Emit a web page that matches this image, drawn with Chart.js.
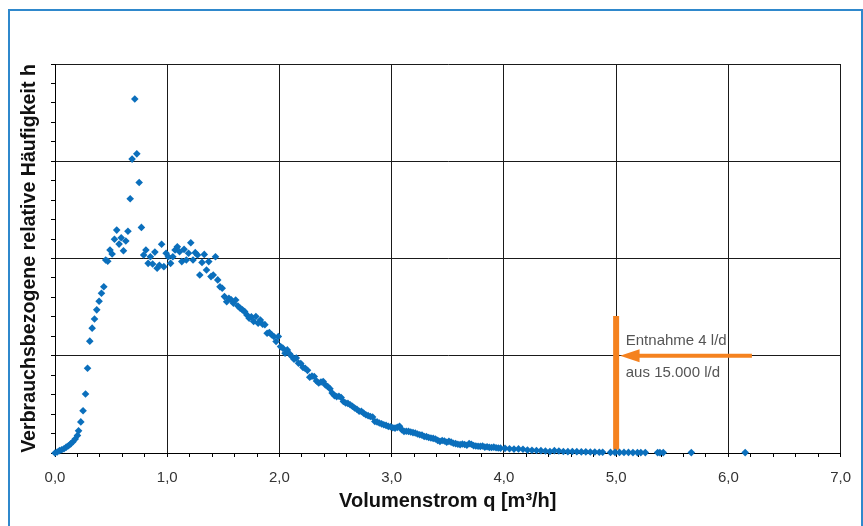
<!DOCTYPE html>
<html>
<head>
<meta charset="utf-8">
<script src="https://cdn.jsdelivr.net/npm/chart.js@4.4.0/dist/chart.umd.min.js"></script>
<style>
  html, body { margin: 0; padding: 0; background: #fff; }
  #wrap { position: relative; width: 863px; height: 526px; overflow: hidden; }
  #frame { position: absolute; left: 8px; top: 9px; width: 851px; height: 560px; border: 2px solid #2f88cc; box-sizing: content-box; }
  canvas { position: absolute; left: 0; top: 0; }
</style>
</head>
<body>
<div id="wrap">
  <div id="frame"></div>
  <canvas id="c" width="863" height="526"></canvas>
</div>
<script>
// ---- data ----
const flowX = [
  0.00,0.02,0.04,0.06,0.08,0.10,0.12,0.14,0.16,0.18,0.20,0.21,0.23,0.25,0.272,0.29,0.31,0.331,0.352,0.372,
  0.393,0.414,0.435,0.452,0.47,0.49,0.509,0.53,0.55,0.571,0.59,0.61,0.631,0.65,0.67,0.687,0.711,0.729,0.75,0.77,
  0.79,0.81,0.83,0.85,0.87,0.89,0.91,0.93,0.95,0.97,0.99,1.01,1.03,1.05,1.07,1.09,1.11,1.13,1.15,1.17,
  1.19,1.21,1.23,1.25,1.27,1.29,1.31,1.33,1.35,1.37,1.39,1.41,1.43,1.45,1.47,1.49,1.51,1.53,1.55,1.57,
  1.59,1.61,1.63,1.65,1.67,1.69,1.71,1.73,1.75,1.77,1.79,1.81,1.83,1.85,1.87,1.89,1.91,1.93,1.95,1.97,
  1.99,2.01,2.03,2.05,2.07,2.09,2.11,2.13,2.15,2.17,2.19,2.21,2.23,2.25,2.27,2.29,2.31,2.33,2.35,2.37,
  2.39,2.41,2.43,2.45,2.47,2.49,2.51,2.53,2.55,2.57,2.59,2.61,2.63,2.65,2.67,2.69,2.71,2.73,2.75,2.77,
  2.79,2.81,2.83,2.85,2.87,2.89,2.91,2.93,2.95,2.97,2.99,3.01,3.03,3.05,3.07,3.09,3.11,3.13,3.15,3.17,
  3.19,3.21,3.23,3.25,3.27,3.29,3.31,3.33,3.35,3.37,3.39,3.41,3.43,3.45,3.47,3.49,3.51,3.53,3.55,3.57,
  3.59,3.61,3.63,3.65,3.67,3.69,3.71,3.73,3.75,3.77,3.79,3.81,3.83,3.85,3.87,3.89,3.91,3.93,3.95,3.97,
  4.01,4.05,4.09,4.13,4.17,4.21,4.25,4.29,4.33,4.37,4.41,4.45,4.49,4.53,4.57,4.61,4.65,4.69,4.73,4.77,
  4.81,4.85,4.88,4.95,4.99,5.03,5.07,5.11,5.15,5.19,5.22,5.26,5.37,5.39,5.42,5.67,6.15
];
const freqY = [
  0.00,0.05,0.12,0.17,0.22,0.30,0.37,0.47,0.58,0.72,0.90,1.14,1.60,2.17,3.03,4.36,5.75,6.42,6.89,7.36,
  7.80,8.21,8.55,9.92,9.86,10.44,10.23,10.99,11.46,10.74,11.07,10.40,10.90,11.40,13.07,15.11,18.20,15.38,13.91,11.60,
  10.18,10.44,9.75,10.09,9.72,10.33,9.50,9.65,10.73,9.58,10.27,10.09,9.75,10.09,10.44,10.60,10.35,9.84,10.47,9.92,
  10.27,10.81,9.92,10.30,10.18,9.15,9.80,10.21,9.41,9.84,9.07,9.15,10.09,8.90,8.55,8.47,8.04,7.78,7.96,7.88,
  7.70,7.87,7.56,7.44,7.36,7.27,7.10,6.93,7.00,6.76,7.02,6.67,6.84,6.62,6.60,6.16,6.19,6.08,5.99,5.73,
  5.99,5.47,5.39,5.13,5.30,5.10,4.96,4.82,4.88,4.62,4.60,4.40,4.35,4.25,3.90,3.95,3.93,3.70,3.60,3.65,
  3.67,3.50,3.42,3.30,3.08,2.95,2.90,2.92,2.85,2.65,2.57,2.55,2.48,2.40,2.31,2.25,2.15,2.14,2.05,1.97,
  1.92,1.88,1.85,1.62,1.60,1.54,1.50,1.45,1.42,1.37,1.35,1.30,1.28,1.32,1.37,1.20,1.11,1.12,1.11,1.08,
  1.05,1.03,0.98,0.94,0.92,0.85,0.84,0.80,0.77,0.75,0.72,0.65,0.60,0.64,0.62,0.55,0.60,0.56,0.50,0.48,
  0.45,0.43,0.46,0.44,0.40,0.48,0.45,0.38,0.36,0.35,0.34,0.36,0.30,0.32,0.29,0.28,0.30,0.27,0.26,0.25,
  0.24,0.22,0.20,0.21,0.19,0.15,0.14,0.13,0.12,0.10,0.08,0.12,0.10,0.08,0.07,0.08,0.07,0.06,0.06,0.05,
  0.05,0.04,0.04,0.03,0.03,0.03,0.03,0.03,0.02,0.02,0.02,0.02,0.02,0.02,0.02,0.02,0.02
];
const xTickLabels = ['0,0','1,0','2,0','3,0','4,0','5,0','6,0','7,0'];
const markerX = [5.0, 5.0];
const markerY = [0.17, 7.05];
const arrowX = [6.21, 5.2];
const arrowY = [5, 5];
const arrowTipX = 5.035;
const annotationLines = ['Entnahme 4 l/d', 'aus 15.000 l/d'];
const annotationX = 5.086;
const annotationY = [5.78, 4.11];
const xTitle = 'Volumenstrom q [m³/h]';
const yTitle = 'Verbrauchsbezogene relative Häufigkeit h';

const FONT = "'Liberation Sans', Arial, sans-serif";
const BLUE = '#0b6fbc';
const ORANGE = '#f5821f';

const pts = flowX.map((x, i) => ({ x: x, y: freqY[i] }));
const marker = markerX.map((x, i) => ({ x: x, y: markerY[i] }));
const arrow = arrowX.map((x, i) => ({ x: x, y: arrowY[i] }));

const isInt = v => Math.abs(v - Math.round(v)) < 1e-6;

const annotationPlugin = {
  id: 'annot',
  afterDatasetsDraw(chart) {
    const ctx = chart.ctx;
    const xs = chart.scales.x, ys = chart.scales.y;
    const tipX = xs.getPixelForValue(arrowTipX);
    const baseX = xs.getPixelForValue(arrowX[1]);
    const yy = ys.getPixelForValue(arrowY[1]);
    ctx.save();
    ctx.fillStyle = ORANGE;
    ctx.beginPath();
    ctx.moveTo(tipX, yy);
    ctx.lineTo(baseX + 1, yy - 6.5);
    ctx.lineTo(baseX + 1, yy + 6.5);
    ctx.closePath();
    ctx.fill();
    ctx.fillStyle = '#555';
    ctx.font = '15px ' + FONT;
    ctx.textAlign = 'left';
    ctx.textBaseline = 'middle';
    annotationLines.forEach((t, i) => {
      ctx.fillText(t, xs.getPixelForValue(annotationX), ys.getPixelForValue(annotationY[i]));
    });
    ctx.restore();
  }
};

new Chart(document.getElementById('c'), {
  type: 'scatter',
  data: {
    datasets: [
      {
        label: 'Entnahme',
        data: marker,
        showLine: true,
        borderColor: ORANGE,
        borderWidth: 6,
        borderCapStyle: 'butt',
        pointRadius: 0,
        clip: false,
        order: 2
      },
      {
        label: 'Pfeil',
        data: arrow,
        showLine: true,
        borderColor: ORANGE,
        borderWidth: 4,
        borderCapStyle: 'butt',
        pointRadius: 0,
        clip: false,
        order: 1
      },
      {
        label: 'h',
        data: pts,
        pointStyle: 'rectRot',
        pointRadius: 3.8,
        pointBackgroundColor: BLUE,
        pointBorderColor: BLUE,
        pointBorderWidth: 0,
        showLine: false,
        clip: false,
        order: 0
      }
    ]
  },
  options: {
    responsive: false,
    animation: false,
    devicePixelRatio: 1,
    layout: { padding: { top: 64, right: 22, left: 0, bottom: 0 } },
    plugins: { legend: { display: false }, tooltip: { enabled: false } },
    scales: {
      x: {
        type: 'linear',
        min: 0, max: 7,
        ticks: {
          stepSize: 0.2,
          autoSkip: false,
          maxRotation: 0,
          padding: 12,
          color: '#333',
          font: { family: FONT, size: 15 },
          callback: v => isInt(v) ? xTickLabels[Math.round(v)] : ''
        },
        grid: {
          color: c => isInt(c.tick.value) ? '#1a1a1a' : 'transparent',
          tickColor: '#000',
          tickLength: 4,
          lineWidth: 1
        },
        border: { color: '#000', width: 1 },
        title: {
          display: true,
          text: xTitle,
          color: '#111',
          font: { family: FONT, size: 20, weight: 'bold' },
          padding: { top: 0, bottom: 13 }
        },
        afterFit: s => { s.height = 73; }
      },
      y: {
        type: 'linear',
        min: 0, max: 20,
        ticks: {
          stepSize: 1,
          autoSkip: false,
          callback: () => ''
        },
        grid: {
          color: c => (Math.round(c.tick.value) % 5 === 0) ? '#1a1a1a' : 'transparent',
          tickColor: '#000',
          tickLength: 4,
          lineWidth: 1
        },
        border: { color: '#000', width: 1 },
        title: {
          display: true,
          text: yTitle,
          color: '#111',
          font: { family: FONT, size: 19.6, weight: 'bold' },
          padding: { top: 18, bottom: 0 }
        },
        afterFit: s => { s.width = 55; }
      }
    }
  },
  plugins: [annotationPlugin]
});
</script>
</body>
</html>
